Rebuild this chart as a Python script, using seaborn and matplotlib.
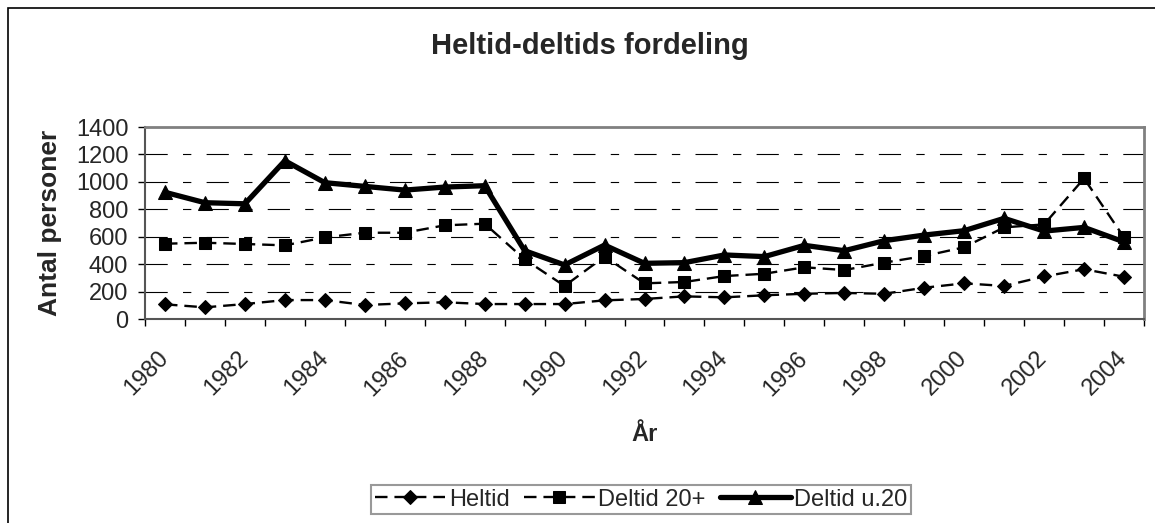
import matplotlib
matplotlib.use("Agg")
import matplotlib.pyplot as plt
import matplotlib.patches as mpatches
import pandas as pd
import seaborn as sns
import numpy as np

sns.set_theme(style="white")
plt.rcParams['font.family'] = ['Liberation Sans', 'DejaVu Sans']
plt.rcParams['lines.scale_dashes'] = False

# --------------- data ---------------
years = list(range(1980, 2005))
heltid = [107, 85, 109, 138, 138, 102, 114, 122, 109, 109, 109, 136, 146,
          165, 158, 173, 184, 190, 184, 228, 260, 241, 310, 363, 308]
deltid_20 = [549, 556, 547, 537, 595, 629, 629, 683, 695, 435, 241, 455, 260,
             270, 313, 330, 377, 357, 411, 459, 523, 668, 690, 1025, 595]
deltid_u20 = [924, 848, 840, 1154, 994, 967, 940, 962, 972, 498, 394, 539, 406,
              411, 467, 455, 537, 498, 571, 612, 644, 734, 641, 668, 562]

df = pd.DataFrame({'År': years, 'Heltid': heltid,
                   'Deltid 20+': deltid_20, 'Deltid u.20': deltid_u20})

fig = plt.figure(figsize=(11.55, 5.23), dpi=100)
ax = fig.add_axes([145 / 1155, 1 - 319 / 523, 999 / 1155, 192 / 523])

sns.lineplot(data=df, x='År', y='Heltid', ax=ax, color='black', lw=1.7,
             marker='D', markersize=7, markeredgecolor='black',
             dashes=(9, 5), label='Heltid')
sns.lineplot(data=df, x='År', y='Deltid 20+', ax=ax, color='black', lw=1.7,
             marker='s', markersize=9, markeredgecolor='black',
             dashes=(9, 5), label='Deltid 20+')
sns.lineplot(data=df, x='År', y='Deltid u.20', ax=ax, color='black', lw=3.8,
             marker='^', markersize=9.5, markeredgecolor='black',
             label='Deltid u.20')

ax.set_xlim(1979.5, 2004.5)
ax.set_ylim(0, 1400)
ax.set_yticks(np.arange(0, 1401, 200))
ax.set_xticks(years[::2])
ax.set_xticks(np.arange(1979.5, 2005, 1), minor=True)
ax.tick_params(axis='x', which='major', length=0, labelsize=17, pad=26)
ax.tick_params(axis='x', which='minor', length=5, width=1, color='black',
               direction='out', bottom=True)
ax.tick_params(axis='y', length=5, width=1, color='black', direction='out',
               labelsize=17, pad=7, left=True)
for lab in ax.get_xticklabels():
    lab.set_rotation(45)
    lab.set_ha('right')
    lab.set_va('center')
    lab.set_rotation_mode('anchor')

ax.yaxis.grid(True, color='black', lw=0.8, linestyle=(0, (16, 11, 6, 11)))
ax.set_axisbelow(True)

for side in ['top', 'right']:
    ax.spines[side].set_color('#808080')
    ax.spines[side].set_linewidth(2)
for side in ['left', 'bottom']:
    ax.spines[side].set_color('#555555')
    ax.spines[side].set_linewidth(1.5)

ax.set_xlabel('År', fontsize=17, fontweight='bold')
ax.set_ylabel('Antal personer', fontsize=19, fontweight='bold')
ax.xaxis.set_label_coords(0.5, -(423 - 319) / 192)
ax.yaxis.set_label_coords(-(145 - 62) / 999, 0.5)

fig.text(590 / 1155, 1 - 46 / 523, 'Heltid-deltids fordeling', fontsize=21,
         fontweight='bold', ha='center', va='center')

handles, labels = ax.get_legend_handles_labels()
ax.get_legend().remove()
leg = fig.legend(handles, labels, loc='center', ncol=3,
                 bbox_to_anchor=(641 / 1155, 1 - 499.5 / 523),
                 fontsize=17, frameon=True, fancybox=False, borderpad=0.15,
                 borderaxespad=0, handlelength=3.0, handletextpad=0.15,
                 columnspacing=0.6)
leg.get_frame().set_edgecolor('#808080')
leg.get_frame().set_linewidth(1.5)

# outer chart border (left and top visible)
fig.add_artist(mpatches.Rectangle((8 / 1155, -0.1), 1.2, 1.1 - 8 / 523,
                                  transform=fig.transFigure, fill=False,
                                  edgecolor='black', lw=1.2))

fig.savefig('out.png', dpi=100)
